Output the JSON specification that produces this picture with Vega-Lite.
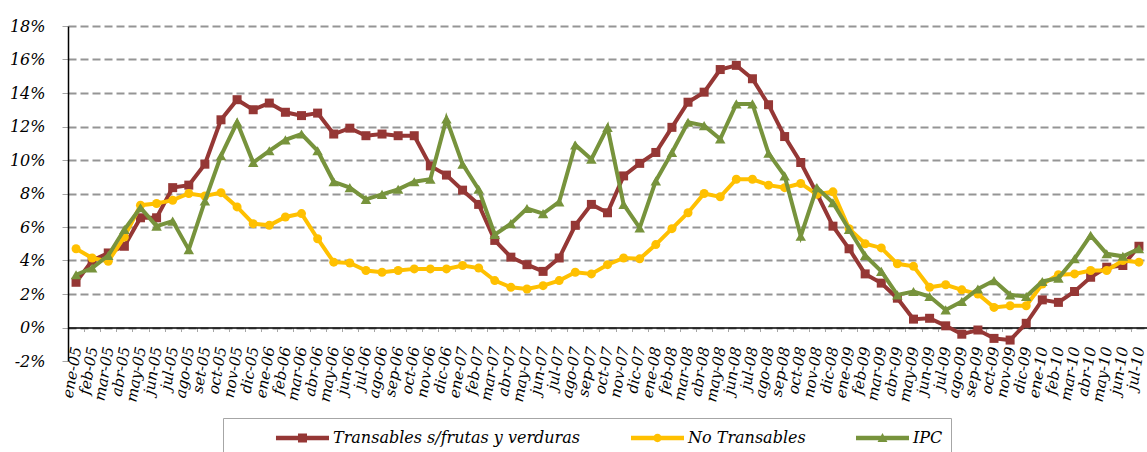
{
  "$schema": "https://vega.github.io/schema/vega-lite/v6.json",
  "width": 1079,
  "height": 335,
  "autosize": {"type": "none"},
  "padding": {"left": 68, "top": 26, "right": 0, "bottom": 91},
  "background": "white",
  "config": {"view": {"stroke": null}, "font": "DejaVu Serif"},
  "data": {"values": [
    {"m":"ene-05","Transables s/frutas y verduras":2.7,"No Transables":4.7,"IPC":3.15},
    {"m":"feb-05","Transables s/frutas y verduras":4.0,"No Transables":4.15,"IPC":3.55},
    {"m":"mar-05","Transables s/frutas y verduras":4.45,"No Transables":3.95,"IPC":4.3},
    {"m":"abr-05","Transables s/frutas y verduras":4.85,"No Transables":5.4,"IPC":5.85},
    {"m":"may-05","Transables s/frutas y verduras":6.55,"No Transables":7.3,"IPC":7.15},
    {"m":"jun-05","Transables s/frutas y verduras":6.55,"No Transables":7.4,"IPC":6.05},
    {"m":"jul-05","Transables s/frutas y verduras":8.35,"No Transables":7.6,"IPC":6.35},
    {"m":"ago-05","Transables s/frutas y verduras":8.5,"No Transables":8.0,"IPC":4.65},
    {"m":"set-05","Transables s/frutas y verduras":9.75,"No Transables":7.85,"IPC":7.55},
    {"m":"oct-05","Transables s/frutas y verduras":12.4,"No Transables":8.05,"IPC":10.25},
    {"m":"nov-05","Transables s/frutas y verduras":13.6,"No Transables":7.2,"IPC":12.25},
    {"m":"dic-05","Transables s/frutas y verduras":13.0,"No Transables":6.2,"IPC":9.85},
    {"m":"ene-06","Transables s/frutas y verduras":13.4,"No Transables":6.1,"IPC":10.55},
    {"m":"feb-06","Transables s/frutas y verduras":12.85,"No Transables":6.6,"IPC":11.2},
    {"m":"mar-06","Transables s/frutas y verduras":12.65,"No Transables":6.8,"IPC":11.55},
    {"m":"abr-06","Transables s/frutas y verduras":12.8,"No Transables":5.3,"IPC":10.55},
    {"m":"may-06","Transables s/frutas y verduras":11.55,"No Transables":3.9,"IPC":8.7},
    {"m":"jun-06","Transables s/frutas y verduras":11.9,"No Transables":3.85,"IPC":8.35},
    {"m":"jul-06","Transables s/frutas y verduras":11.45,"No Transables":3.4,"IPC":7.65},
    {"m":"ago-06","Transables s/frutas y verduras":11.55,"No Transables":3.3,"IPC":7.95},
    {"m":"sep-06","Transables s/frutas y verduras":11.45,"No Transables":3.4,"IPC":8.25},
    {"m":"oct-06","Transables s/frutas y verduras":11.45,"No Transables":3.5,"IPC":8.7},
    {"m":"nov-06","Transables s/frutas y verduras":9.65,"No Transables":3.5,"IPC":8.85},
    {"m":"dic-06","Transables s/frutas y verduras":9.1,"No Transables":3.5,"IPC":12.45},
    {"m":"ene-07","Transables s/frutas y verduras":8.2,"No Transables":3.7,"IPC":9.75},
    {"m":"feb-07","Transables s/frutas y verduras":7.35,"No Transables":3.55,"IPC":8.25},
    {"m":"mar-07","Transables s/frutas y verduras":5.2,"No Transables":2.8,"IPC":5.55},
    {"m":"abr-07","Transables s/frutas y verduras":4.2,"No Transables":2.4,"IPC":6.2},
    {"m":"may-07","Transables s/frutas y verduras":3.75,"No Transables":2.3,"IPC":7.1},
    {"m":"jun-07","Transables s/frutas y verduras":3.35,"No Transables":2.5,"IPC":6.8},
    {"m":"jul-07","Transables s/frutas y verduras":4.15,"No Transables":2.8,"IPC":7.5},
    {"m":"ago-07","Transables s/frutas y verduras":6.1,"No Transables":3.3,"IPC":10.9},
    {"m":"sep-07","Transables s/frutas y verduras":7.35,"No Transables":3.2,"IPC":10.05},
    {"m":"oct-07","Transables s/frutas y verduras":6.85,"No Transables":3.75,"IPC":11.95},
    {"m":"nov-07","Transables s/frutas y verduras":9.05,"No Transables":4.15,"IPC":7.35},
    {"m":"dic-07","Transables s/frutas y verduras":9.8,"No Transables":4.1,"IPC":5.95},
    {"m":"ene-08","Transables s/frutas y verduras":10.45,"No Transables":4.95,"IPC":8.75},
    {"m":"feb-08","Transables s/frutas y verduras":11.95,"No Transables":5.9,"IPC":10.45},
    {"m":"mar-08","Transables s/frutas y verduras":13.45,"No Transables":6.85,"IPC":12.25},
    {"m":"abr-08","Transables s/frutas y verduras":14.05,"No Transables":8.0,"IPC":12.05},
    {"m":"may-08","Transables s/frutas y verduras":15.4,"No Transables":7.8,"IPC":11.25},
    {"m":"jun-08","Transables s/frutas y verduras":15.65,"No Transables":8.85,"IPC":13.35},
    {"m":"jul-08","Transables s/frutas y verduras":14.85,"No Transables":8.85,"IPC":13.35},
    {"m":"ago-08","Transables s/frutas y verduras":13.3,"No Transables":8.5,"IPC":10.4},
    {"m":"sep-08","Transables s/frutas y verduras":11.4,"No Transables":8.35,"IPC":9.05},
    {"m":"oct-08","Transables s/frutas y verduras":9.85,"No Transables":8.6,"IPC":5.45},
    {"m":"nov-08","Transables s/frutas y verduras":8.0,"No Transables":7.95,"IPC":8.35},
    {"m":"dic-08","Transables s/frutas y verduras":6.05,"No Transables":8.1,"IPC":7.45},
    {"m":"ene-09","Transables s/frutas y verduras":4.7,"No Transables":5.9,"IPC":5.85},
    {"m":"feb-09","Transables s/frutas y verduras":3.2,"No Transables":5.0,"IPC":4.3},
    {"m":"mar-09","Transables s/frutas y verduras":2.65,"No Transables":4.75,"IPC":3.35},
    {"m":"abr-09","Transables s/frutas y verduras":1.75,"No Transables":3.8,"IPC":1.95},
    {"m":"may-09","Transables s/frutas y verduras":0.5,"No Transables":3.65,"IPC":2.15},
    {"m":"jun-09","Transables s/frutas y verduras":0.55,"No Transables":2.4,"IPC":1.85},
    {"m":"jul-09","Transables s/frutas y verduras":0.1,"No Transables":2.55,"IPC":1.05},
    {"m":"ago-09","Transables s/frutas y verduras":-0.4,"No Transables":2.25,"IPC":1.55},
    {"m":"sep-09","Transables s/frutas y verduras":-0.15,"No Transables":2.0,"IPC":2.3},
    {"m":"oct-09","Transables s/frutas y verduras":-0.65,"No Transables":1.2,"IPC":2.8},
    {"m":"nov-09","Transables s/frutas y verduras":-0.75,"No Transables":1.3,"IPC":1.95},
    {"m":"dic-09","Transables s/frutas y verduras":0.25,"No Transables":1.3,"IPC":1.85},
    {"m":"ene-10","Transables s/frutas y verduras":1.65,"No Transables":2.6,"IPC":2.75},
    {"m":"feb-10","Transables s/frutas y verduras":1.5,"No Transables":3.15,"IPC":2.95},
    {"m":"mar-10","Transables s/frutas y verduras":2.15,"No Transables":3.2,"IPC":4.1},
    {"m":"abr-10","Transables s/frutas y verduras":3.0,"No Transables":3.4,"IPC":5.5},
    {"m":"may-10","Transables s/frutas y verduras":3.6,"No Transables":3.4,"IPC":4.4},
    {"m":"jun-10","Transables s/frutas y verduras":3.7,"No Transables":4.0,"IPC":4.25},
    {"m":"jul-10","Transables s/frutas y verduras":4.85,"No Transables":3.9,"IPC":4.7}
  ]},
  "encoding": {
    "x": {
      "field": "m", "type": "ordinal", "sort": null,
      "scale": {"type": "band", "paddingInner": 0, "paddingOuter": 0},
      "axis": {
        "title": null, "orient": "bottom", "offset": -33.5,
        "domainColor": "black", "domainWidth": 1.5,
        "tickBand": "extent", "tickColor": "#a6a6a6", "tickSize": 4, "tickWidth": 1,
        "labelAngle": -80, "labelFont": "DejaVu Serif", "labelFontStyle": "italic",
        "labelFontSize": 15, "labelColor": "black", "labelPadding": 15,
        "grid": false, "labelOverlap": false, "labelBound": false
      }
    }
  },
  "layer": [
    {
      "mark": {"type": "line", "color": "#953735", "strokeWidth": 4,
        "point": {"shape": "square", "size": 81, "filled": true, "color": "#953735", "opacity": 1}},
      "encoding": {
        "y": {
          "field": "Transables s/frutas y verduras", "type": "quantitative",
          "scale": {"domain": [-2, 18], "nice": false, "zero": false},
          "axis": {
            "title": null, "values": [-2, 0, 2, 4, 6, 8, 10, 12, 14, 16, 18], "tickCount": 11,
            "labelExpr": "datum.value + '%'", "labelOverlap": false,
            "domainColor": "black", "domainWidth": 1.5,
            "tickColor": "#a6a6a6", "tickSize": 6,
            "labelFont": "DejaVu Serif", "labelFontStyle": "italic", "labelFontSize": 16,
            "labelColor": "black", "labelPadding": 17,
            "grid": true, "gridColor": "#959595", "gridWidth": 2, "gridDash": [8, 4],
            "gridOpacity": {"condition": {"test": "datum.value < 0", "value": 0}, "value": 1}
          }
        }
      }
    },
    {
      "mark": {"type": "line", "color": "#FFC000", "strokeWidth": 4,
        "point": {"shape": "circle", "size": 81, "filled": true, "color": "#FFC000", "opacity": 1}},
      "encoding": {"y": {"field": "No Transables", "type": "quantitative"}}
    },
    {
      "mark": {"type": "line", "color": "#77933C", "strokeWidth": 4,
        "point": {"shape": "triangle-up", "size": 110, "filled": true, "color": "#77933C", "opacity": 1}},
      "encoding": {"y": {"field": "IPC", "type": "quantitative"}}
    },
    {
      "transform": [{"fold": ["Transables s/frutas y verduras", "No Transables", "IPC"], "as": ["serie", "valor"]}],
      "mark": {"type": "point", "filled": true, "opacity": 0},
      "encoding": {
        "y": {"field": "valor", "type": "quantitative"},
        "color": {
          "field": "serie", "type": "nominal",
          "scale": {"domain": ["Transables s/frutas y verduras", "No Transables", "IPC"], "range": ["#953735", "#FFC000", "#77933C"]},
          "legend": {
            "title": null, "orient": "none", "legendX": 155, "legendY": 392, "direction": "horizontal",
            "symbolSize": 9604, "symbolStrokeWidth": 0, "symbolOpacity": 1,
            "labelFont": "DejaVu Serif", "labelFontStyle": "italic", "labelFontSize": 16,
            "labelColor": "black", "labelOffset": 4, "labelLimit": 0,
            "columnPadding": 5, "clipHeight": 24, "padding": 8,
            "strokeColor": "#a6a6a6", "fillColor": "white"
          }
        },
        "shape": {
          "field": "serie", "type": "nominal",
          "scale": {"domain": ["Transables s/frutas y verduras", "No Transables", "IPC"],
            "range": [
              "M-0.082,-0.045H1V0.045H-0.082Z M0.367,-0.092H0.551V0.092H0.367Z",
              "M-0.082,-0.045H1V0.045H-0.082Z M0.374,0A0.085,0.085,0,1,1,0.544,0A0.085,0.085,0,1,1,0.374,0Z",
              "M-0.082,-0.045H1V0.045H-0.082Z M0.459,-0.1L0.56,0.08L0.358,0.08Z"
            ]},
          "legend": {
            "title": null, "orient": "none", "legendX": 155, "legendY": 392, "direction": "horizontal",
            "symbolSize": 9604, "symbolStrokeWidth": 0, "symbolOpacity": 1,
            "labelFont": "DejaVu Serif", "labelFontStyle": "italic", "labelFontSize": 16,
            "labelColor": "black", "labelOffset": 4, "labelLimit": 0,
            "columnPadding": 5, "clipHeight": 24, "padding": 8,
            "strokeColor": "#a6a6a6", "fillColor": "white"
          }
        }
      }
    }
  ]
}
